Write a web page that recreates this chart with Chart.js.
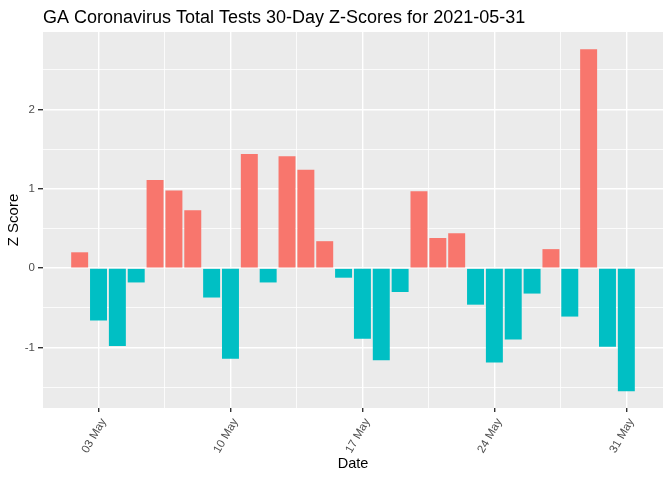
<!DOCTYPE html>
<html lang="en">
<head>
    <meta charset="UTF-8">
    <title>GA Coronavirus Total Tests 30-Day Z-Scores</title>
    <script src="https://cdn.jsdelivr.net/npm/chart.js"></script>
    <style>
        html, body { margin: 0; padding: 0; background: #ffffff; }
        #wrap { width: 672px; height: 480px; }
    </style>
</head>
<body>
<div id="wrap"><canvas id="zChart" width="672" height="480"></canvas></div>
<script>
    // day of May 2021
    const days = [2, 3, 4, 5, 6, 7, 8, 9, 10, 11, 12, 13, 14, 15, 16,
                  17, 18, 19, 20, 21, 22, 23, 24, 25, 26, 27, 28, 29, 30, 31];
    // z scores
    const zScores = [0.20, -0.66, -0.98, -0.18, 1.11, 0.98, 0.73, -0.37, -1.14, 1.44, -0.18, 1.41, 1.24, 0.34, -0.12,
                     -0.89, -1.16, -0.30, 0.97, 0.38, 0.44, -0.46, -1.19, -0.90, -0.32, 0.24, -0.61, 2.76, -0.99, -1.55];
    const xTicks = [3, 10, 17, 24, 31];
    const xMinorTicks = [6.5, 13.5, 20.5, 27.5];
    const yTicks = [-1, 0, 1, 2];
    const yMinorTicks = [-1.5, -0.5, 0.5, 1.5, 2.5];

    const POS = '#F8766D', NEG = '#00BFC4';
    const xMin = 0.055, xMax = 32.945;
    const yMin = -1.762, yMax = 2.976;

    const panelBg = {
        id: 'panelBg',
        beforeDraw(chart) {
            const a = chart.chartArea, ctx = chart.ctx;
            ctx.save();
            ctx.fillStyle = '#EBEBEB';
            ctx.fillRect(a.left, a.top, a.right - a.left, a.bottom - a.top);
            ctx.restore();
        }
    };

    const plotTitle = {
        id: 'plotTitle',
        afterDraw(chart) {
            const ctx = chart.ctx;
            ctx.save();
            ctx.fillStyle = '#000000';
            ctx.font = '18px "Liberation Sans", Arial, sans-serif';
            ctx.textBaseline = 'alphabetic';
            ctx.fillText('GA Coronavirus Total Tests 30-Day Z-Scores for 2021-05-31', chart.chartArea.left, 23);
            ctx.restore();
        }
    };

    const font = '"Liberation Sans", Arial, sans-serif';
    const setTicks = list => scale => { scale.ticks = list.map(v => ({ value: v })); };

    new Chart(document.getElementById('zChart'), {
        type: 'bar',
        data: {
            datasets: [{
                data: days.map((d, i) => ({ x: d, y: zScores[i] })),
                backgroundColor: zScores.map(v => v >= 0 ? POS : NEG),
                barPercentage: 0.9,
                categoryPercentage: 1.0
            }]
        },
        options: {
            responsive: false,
            animation: false,
            layout: { padding: { top: 32, right: 9, bottom: 5, left: 0 } },
            plugins: {
                legend: { display: false },
                tooltip: { enabled: false }
            },
            scales: {
                x: {
                    type: 'linear',
                    offset: false,
                    min: xMin, max: xMax,
                    afterBuildTicks: setTicks(xTicks),
                    afterFit: s => { s.height = 67; },
                    border: { display: false },
                    grid: { offset: false, color: '#ffffff', lineWidth: 1.4, tickColor: '#333333', tickLength: 4 },
                    ticks: {
                        color: '#4D4D4D',
                        font: { family: font, size: 11.5 },
                        minRotation: 60, maxRotation: 60,
                        padding: 4,
                        labelOffset: 5,
                        callback: v => String(v).padStart(2, '0') + ' May'
                    },
                    title: { display: true, text: 'Date', color: '#000000', font: { family: font, size: 14.5 }, padding: { top: 0, bottom: 2 } }
                },
                xMinor: {
                    type: 'linear',
                    position: 'bottom',
                    offset: false,
                    min: xMin, max: xMax,
                    afterBuildTicks: setTicks(xMinorTicks),
                    afterFit: s => { s.height = 0; },
                    border: { display: false },
                    grid: { offset: false, color: '#ffffff', lineWidth: 0.8, drawTicks: false },
                    ticks: { display: false }
                },
                y: {
                    min: yMin, max: yMax,
                    afterBuildTicks: setTicks(yTicks),
                    afterFit: s => { s.width = 43; },
                    border: { display: false },
                    grid: { color: '#ffffff', lineWidth: 1.4, tickColor: '#333333', tickLength: 5 },
                    ticks: { color: '#4D4D4D', font: { family: font, size: 11.5 }, padding: 3 },
                    title: { display: true, text: 'Z Score', color: '#000000', font: { family: font, size: 15 }, padding: { top: 5, bottom: 0 } }
                },
                yMinor: {
                    position: 'left',
                    min: yMin, max: yMax,
                    afterBuildTicks: setTicks(yMinorTicks),
                    afterFit: s => { s.width = 0; },
                    border: { display: false },
                    grid: { color: '#ffffff', lineWidth: 0.8, drawTicks: false },
                    ticks: { display: false }
                }
            }
        },
        plugins: [panelBg, plotTitle]
    });
</script>
</body>
</html>
